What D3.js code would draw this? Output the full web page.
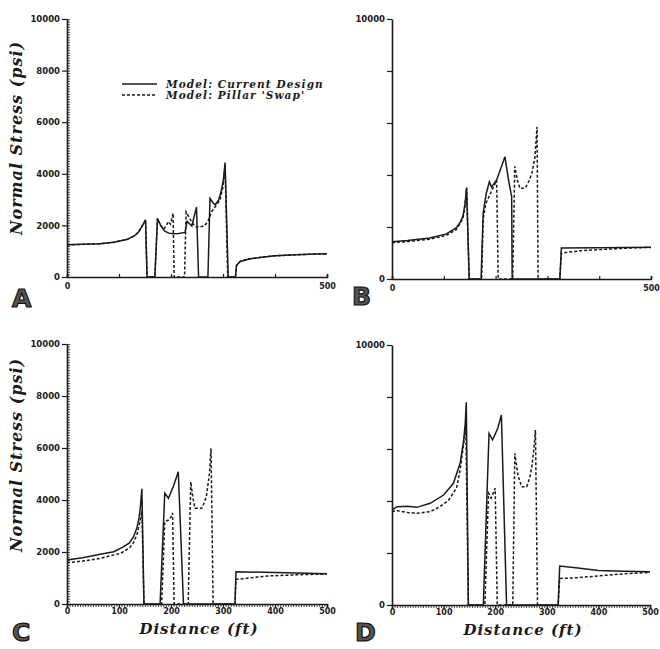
<!DOCTYPE html>
<html><head><meta charset="utf-8">
<script src="https://cdn.jsdelivr.net/npm/d3@7"></script>
<style>html,body{margin:0;padding:0;background:#fff}</style>
</head><body>
<svg id="chart" width="660" height="649"></svg>
<script>
// ---------- DATA ----------
const distanceTicks = [0, 100, 200, 300, 400, 500];
const stressTicks = [0, 2000, 4000, 6000, 8000, 10000];
const seriesNames = ["Model: Current Design", "Model: Pillar 'Swap'"];
const panelLetters = ["A", "B", "C", "D"];
const xTitle = "Distance (ft)";
const yTitle = "Normal Stress (psi)";

const currentA = [[0,1250],[30,1265],[64,1290],[90,1350],[115,1450],[130,1600],[138,1750],[144,1960],[148,2100],[151,2220],[154,0],[169,0],[174,2270],[180,2000],[188,1780],[196,1700],[205,1680],[215,1690],[227,1730],[231,2160],[240,1980],[249,2710],[253,0],[271,0],[275,3050],[280,2900],[285,2800],[292,3000],[297,3370],[301,3800],[304,4440],[310,0],[324,0],[326,450],[333,600],[350,700],[375,770],[400,820],[440,860],[480,890],[500,900]];
const swapA = [[0,1250],[30,1265],[64,1290],[90,1350],[115,1450],[130,1600],[138,1750],[144,1960],[148,2100],[151,2220],[154,0],[169,0],[174,2270],[180,2000],[186,1850],[191,2000],[195,2150],[199,2050],[204,2470],[206,0],[226,0],[229,2520],[235,2300],[241,2100],[247,1950],[256,1940],[265,1990],[272,2200],[278,2530],[286,2750],[294,2980],[300,3500],[304,4340],[309,0],[324,0],[326,450],[333,600],[350,700],[375,770],[400,820],[440,860],[480,890],[500,900]];

const currentB = [[0,1430],[30,1480],[73,1580],[105,1735],[124,1967],[132,2200],[137,2416],[141,2900],[144,3509],[149,0],[172,0],[176,2540],[182,3300],[188,3740],[192,3530],[202,3810],[210,4250],[218,4700],[225,3800],[231,3165],[232,0],[324,0],[327,1190],[400,1200],[500,1220]];
const swapB = [[0,1400],[30,1440],[73,1530],[105,1680],[124,1900],[132,2150],[137,2350],[141,2800],[144,3509],[149,0],[173,0],[176,2300],[181,2900],[188,3200],[195,3500],[202,3800],[205,0],[233,0],[237,4330],[242,3800],[247,3490],[257,3490],[264,3750],[270,4060],[276,4700],[280,5850],[282,0],[324,0],[327,1000],[340,1030],[370,1100],[420,1150],[470,1200],[500,1215]];

const currentC = [[0,1690],[30,1780],[64,1910],[90,2013],[109,2205],[120,2350],[128,2590],[134,2900],[138,3230],[141,3700],[144,4430],[148,0],[179,0],[188,4260],[195,4065],[205,4550],[214,5090],[224,0],[323,0],[325,1240],[400,1210],[500,1160]];
const swapC = [[0,1590],[30,1650],[64,1756],[103,1950],[120,2150],[128,2360],[135,2700],[141,3230],[144,3600],[148,0],[182,0],[188,3165],[195,3230],[200,3350],[203,3500],[206,0],[233,0],[238,4700],[242,4100],[246,3680],[259,3680],[264,3900],[268,4130],[274,5030],[277,5990],[281,0],[323,0],[325,950],[333,960],[385,1077],[449,1128],[500,1154]];

const currentD = [[0,3654],[10,3782],[30,3800],[48,3756],[74,3910],[100,4230],[119,4680],[132,5450],[139,6350],[142,7000],[144,7800],[148,0],[177,0],[188,6600],[195,6350],[205,6800],[212,7310],[222,0],[322,0],[325,1500],[360,1420],[400,1330],[450,1300],[500,1282]];
const swapD = [[0,3590],[10,3628],[30,3560],[48,3525],[74,3590],[93,3780],[110,4040],[125,4500],[132,5190],[139,6220],[143,6900],[148,0],[180,0],[187,4300],[192,4110],[200,4490],[204,0],[234,0],[238,5830],[244,5000],[251,4550],[261,4550],[267,4900],[271,5320],[275,6000],[278,6730],[282,0],[322,0],[325,1020],[360,1050],[400,1120],[450,1200],[500,1256]];

// ---------- LAYOUT ----------
const panels = [
  {letter: panelLetters[0], current: currentA, swap: swapA, x0: 67, x1: 327, y0: 277, y1: 19, titleY: 138,
   yMinor: true, yAllLabels: true, xMinor: false, xAllLabels: false, showYTitle: true, showXTitle: false, legend: true, lx: 12, ly: 307},
  {letter: panelLetters[1], current: currentB, swap: swapB, x0: 392, x1: 651, y0: 279, y1: 19, titleY: 0,
   yMinor: false, yAllLabels: false, xMinor: false, xAllLabels: false, showYTitle: false, showXTitle: false, legend: false, lx: 352, ly: 305},
  {letter: panelLetters[2], current: currentC, swap: swapC, x0: 67, x1: 327, y0: 604, y1: 344, titleY: 455,
   yMinor: true, yAllLabels: true, xMinor: true, xAllLabels: true, showYTitle: true, showXTitle: true, legend: false, lx: 12, ly: 641},
  {letter: panelLetters[3], current: currentD, swap: swapD, x0: 392, x1: 650, y0: 605, y1: 345, titleY: 0,
   yMinor: false, yAllLabels: false, xMinor: true, xAllLabels: true, showYTitle: false, showXTitle: true, legend: false, lx: 355, ly: 641}
];

const ink = "#1a1a1a";
const svg = d3.select("#chart");
svg.append("rect").attr("width", 660).attr("height", 649).attr("fill", "#fff");

const tickFont = "'DejaVu Sans', sans-serif";
const titleFont = "'DejaVu Serif', serif";

panels.forEach(p => {
  const x = d3.scaleLinear().domain([0, 500]).range([p.x0, p.x1]);
  const y = d3.scaleLinear().domain([0, 10000]).range([p.y0, p.y1]);
  const g = svg.append("g");

  if (p.yMinor) {
    const ym = g.append("g").attr("transform", `translate(${p.x0},0)`)
      .call(d3.axisRight(y).tickValues(d3.range(0, 10001, 100)).tickSize(3).tickFormat(""));
    ym.select(".domain").remove();
    ym.selectAll("line").attr("stroke", ink).attr("stroke-width", 0.8);
  }
  if (p.xMinor) {
    const xm = g.append("g").attr("transform", `translate(0,${p.y0})`)
      .call(d3.axisBottom(x).tickValues(d3.range(0, 501, 5)).tickSize(3).tickFormat(""));
    xm.select(".domain").remove();
    xm.selectAll("line").attr("stroke", ink).attr("stroke-width", 0.8);
  }

  const ya = g.append("g").attr("transform", `translate(${p.x0},0)`)
    .call(d3.axisLeft(y).tickValues(stressTicks).tickSize(5).tickPadding(2).tickSizeOuter(0)
      .tickFormat(d => (p.yAllLabels || d === 0 || d === 10000) ? String(d) : ""));
  ya.select(".domain").attr("stroke", ink).attr("stroke-width", 1.6);
  ya.selectAll("line").attr("stroke", ink).attr("stroke-width", 1.2);
  ya.selectAll("text").attr("font-family", tickFont).attr("font-weight", "bold")
    .attr("font-size", 8.5).attr("fill", ink);

  const xa = g.append("g").attr("transform", `translate(0,${p.y0})`)
    .call(d3.axisBottom(x).tickValues(distanceTicks).tickSizeOuter(0)
      .tickSize(p.xMinor ? 4 : -3).tickPadding(p.xMinor ? 0 : 6)
      .tickFormat(d => (p.xAllLabels || d === 0 || d === 500) ? String(d) : ""));
  xa.select(".domain").attr("stroke", ink).attr("stroke-width", 1.6);
  xa.selectAll("line").attr("stroke", ink).attr("stroke-width", 1.2);
  xa.selectAll("text").attr("font-family", tickFont).attr("font-weight", "bold")
    .attr("font-size", 8).attr("fill", ink);

  const line = d3.line().x(d => x(d[0])).y(d => y(d[1]));
  g.append("path").datum(p.current).attr("d", line).attr("fill", "none")
    .attr("stroke", ink).attr("stroke-width", 1.5).attr("stroke-linejoin", "miter");
  g.append("path").datum(p.swap).attr("d", line).attr("fill", "none")
    .attr("stroke", ink).attr("stroke-width", 1.5).attr("stroke-dasharray", "3,2");

  if (p.showYTitle) {
    g.append("text").attr("transform", `translate(22,${p.titleY}) rotate(-90)`)
      .attr("text-anchor", "middle").attr("font-family", titleFont).attr("font-style", "italic")
      .attr("font-weight", "bold").attr("font-size", 16).attr("letter-spacing", 1)
      .attr("fill", ink).text(yTitle);
  }
  if (p.showXTitle) {
    g.append("text").attr("x", (p.x0 + p.x1) / 2 + 2).attr("y", p.y0 + 30)
      .attr("text-anchor", "middle").attr("font-family", titleFont).attr("font-style", "italic")
      .attr("font-weight", "bold").attr("font-size", 15).attr("letter-spacing", 1)
      .attr("fill", ink).text(xTitle);
  }

  g.append("text").attr("x", p.lx).attr("y", p.ly)
    .attr("font-family", tickFont).attr("font-weight", "bold").attr("font-size", 25)
    .attr("fill", "#555").attr("stroke", "#111").attr("stroke-width", 1.2).text(p.letter);

  if (p.legend) {
    const lg = g.append("g");
    seriesNames.forEach((name, i) => {
      const yy = 84 + i * 11;
      lg.append("line").attr("x1", 122).attr("x2", 157).attr("y1", yy).attr("y2", yy)
        .attr("stroke", ink).attr("stroke-width", 1.5)
        .attr("stroke-dasharray", i === 1 ? "3,2" : null);
      lg.append("text").attr("x", 166).attr("y", yy + 3.5)
        .attr("font-family", titleFont).attr("font-style", "italic").attr("font-weight", "bold")
        .attr("font-size", 10.5).attr("letter-spacing", 1.1).attr("fill", ink).text(name);
    });
  }
});
</script>
</body></html>
